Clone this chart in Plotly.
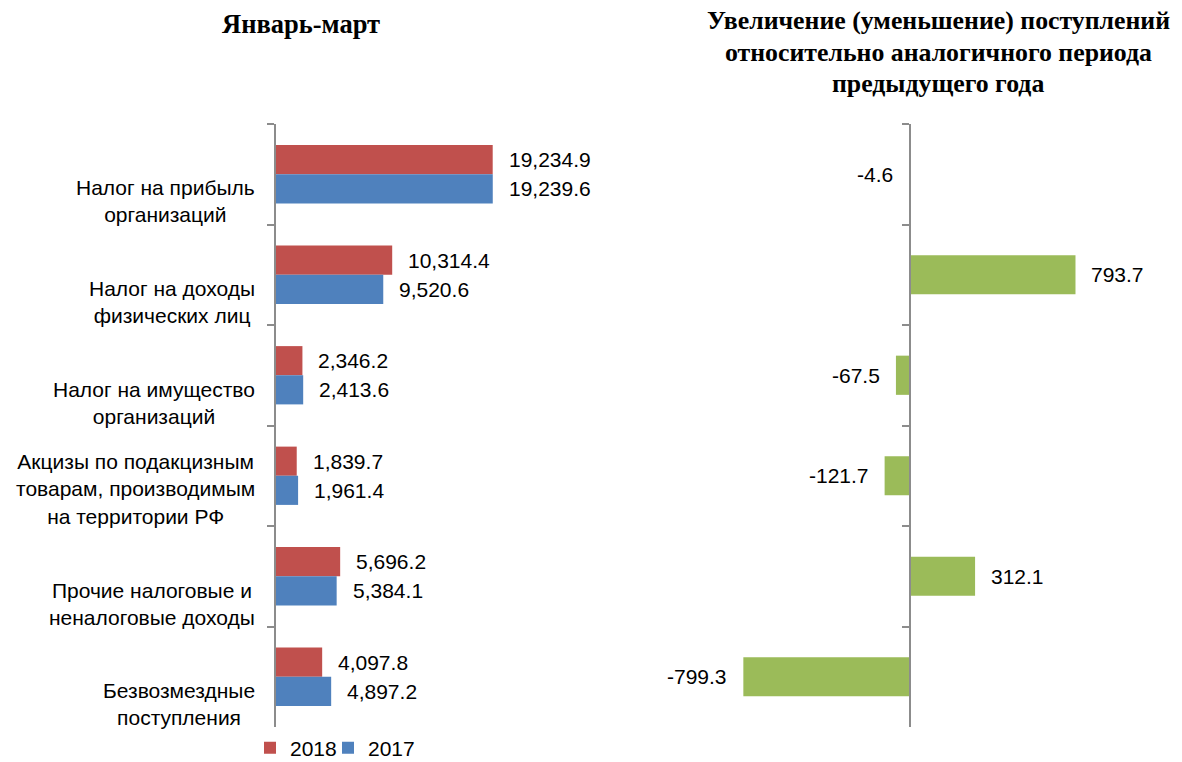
import plotly.graph_objects as go

categories = [
    "Налог на прибыль<br>организаций",
    "Налог на доходы<br>физических лиц",
    "Налог на имущество<br>организаций",
    "Акцизы по подакцизным<br>товарам, производимым<br>на территории РФ",
    "Прочие налоговые и<br>неналоговые доходы",
    "Безвозмездные<br>поступления",
]
values_2018 = [19234.9, 10314.4, 2346.2, 1839.7, 5696.2, 4097.8]
values_2017 = [19239.6, 9520.6, 2413.6, 1961.4, 5384.1, 4897.2]
change = [-4.6, 793.7, -67.5, -121.7, 312.1, -799.3]

title_left = "Январь-март"
title_right_lines = [
    "Увеличение (уменьшение) поступлений",
    "относительно аналогичного периода",
    "предыдущего года",
]

RED = "#C0504D"
BLUE = "#4F81BD"
GREEN = "#9BBB59"
AXIS = "#8C8C8C"
SANS = "Liberation Sans, Arial, sans-serif"
SERIF = "Liberation Serif, Times New Roman, serif"

W, H = 1182, 762


def px(x):
    return x / W


def py(y):
    return 1 - y / H


fig = go.Figure()
fig.add_trace(go.Bar(
    name="2018", y=categories, x=values_2018, orientation="h",
    marker=dict(color=RED, line=dict(width=0)),
    width=0.29, offset=-0.29, xaxis="x", yaxis="y", legend="legend",
))
fig.add_trace(go.Bar(
    name="2017", y=categories, x=values_2017, orientation="h",
    marker=dict(color=BLUE, line=dict(width=0)),
    width=0.29, offset=0.0, xaxis="x", yaxis="y", legend="legend2",
))
fig.add_trace(go.Bar(
    name="change", y=categories, x=change, orientation="h",
    marker=dict(color=GREEN, line=dict(width=0)),
    width=0.39, xaxis="x2", yaxis="y2", showlegend=False,
))

LBL = dict(family=SANS, size=21, color="#000")
annotations = []
for i, (a, b) in enumerate(zip(values_2018, values_2017)):
    annotations.append(dict(x=a, y=i - 0.145, xref="x", yref="y", text=f"{a:,.1f}",
                            showarrow=False, xanchor="left", xshift=14, font=LBL))
    annotations.append(dict(x=b, y=i + 0.145, xref="x", yref="y", text=f"{b:,.1f}",
                            showarrow=False, xanchor="left", xshift=14, font=LBL))
for i, v in enumerate(change):
    annotations.append(dict(x=v, y=i, xref="x2", yref="y2", text=f"{v:,.1f}",
                            showarrow=False,
                            xanchor="left" if v >= 0 else "right",
                            xshift=14 if v >= 0 else -14, font=LBL))
for i, c in enumerate(categories):
    annotations.append(dict(x=px(257), y=i + 0.5, xref="paper", yref="y", text=c,
                            showarrow=False, xanchor="right", yanchor="bottom",
                            yshift=-4, align="center", font=LBL))
annotations.append(dict(x=px(301), y=py(24), xref="paper", yref="paper", text=title_left,
                        showarrow=False, xanchor="center", yanchor="middle",
                        font=dict(family=SERIF, size=26.5, color="#000", weight="bold")))
for k, line in enumerate(title_right_lines):
    annotations.append(dict(x=px(938), y=py(21 + 31 * k), xref="paper", yref="paper",
                            text=line, showarrow=False, xanchor="center",
                            yanchor="middle",
                            font=dict(family=SERIF, size=25.8, color="#000", weight="bold")))

ydom = [1 - 727 / H, 1 - 124 / H]
yax = dict(domain=ydom, type="category", categoryorder="array", categoryarray=categories,
           range=[5.5, -0.5], showticklabels=False, ticks="outside", tickson="boundaries",
           ticklen=7, tickwidth=2, tickcolor=AXIS, showline=True, linecolor=AXIS,
           linewidth=2, showgrid=False, zeroline=False, fixedrange=True)

LEG = dict(orientation="h", y=py(748), xanchor="left", yanchor="middle",
           font=dict(family=SANS, size=21, color="#000"),
           bgcolor="rgba(0,0,0,0)", itemclick=False)

fig.update_layout(
    width=W, height=H,
    margin=dict(l=0, r=0, t=0, b=0, autoexpand=False),
    paper_bgcolor="white", plot_bgcolor="white",
    barmode="overlay",
    showlegend=True,
    legend=dict(x=px(250), **LEG),
    legend2=dict(x=px(328), **LEG),
    xaxis=dict(domain=[px(276), px(620)], range=[0, 30534], visible=False, fixedrange=True),
    yaxis=dict(anchor="x", **yax),
    xaxis2=dict(domain=[px(660), px(1160)], range=[-1199, 1199], visible=False,
                anchor="y2", fixedrange=True),
    yaxis2=dict(anchor="free", position=px(910), **yax),
    annotations=annotations,
)

fig.write_html(
    "out.html",
    config={"displayModeBar": False},
    post_script="document.body.style.margin='0';document.body.style.overflow='hidden';",
)
